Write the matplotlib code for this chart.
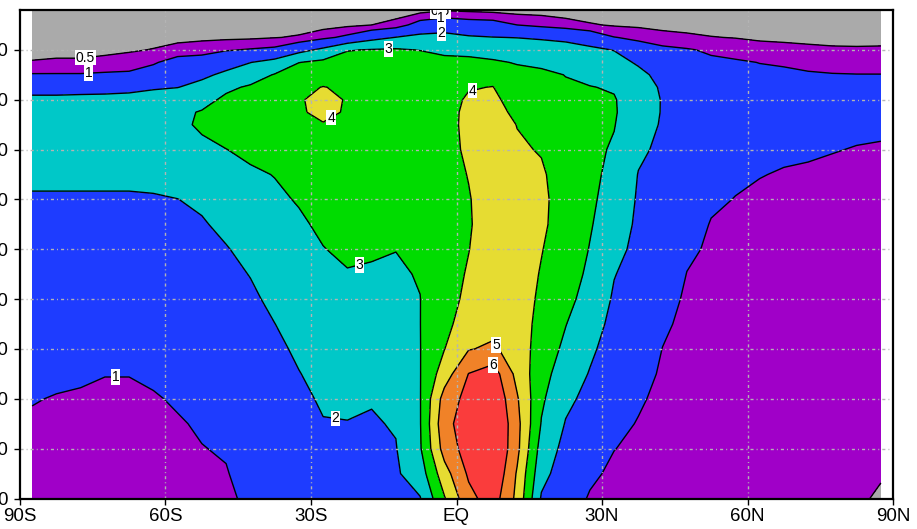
import numpy as np
import matplotlib
matplotlib.use("Agg")
import matplotlib.pyplot as plt

# grid: 5 degree latitude columns, height rows (bottom to top)
lats = np.arange(-87.5, 90, 5.0)
heights = [0, 5, 10, 15, 20, 25, 30, 35, 40, 45, 50, 55, 60, 65, 70, 75,
           77.5, 80, 82.5, 85, 87.5, 90, 92.5, 95, 98]

# one profile per latitude column, values from bottom to top
profiles = [
    [0.8, 0.85, 0.9, 0.95, 1.02, 1.12, 1.2, 1.3, 1.4, 1.5, 1.65, 1.8, 1.9, 2.2, 2.55, 2.6, 2.5, 2.2, 1.65, 1.05, 0.52, 0.4, 0.3, 0.2, 0.1],        # 87.5S
    [0.78, 0.83, 0.88, 0.93, 0.98, 1.08, 1.18, 1.28, 1.38, 1.5, 1.64, 1.78, 1.9, 2.2, 2.55, 2.6, 2.5, 2.2, 1.65, 1.05, 0.55, 0.4, 0.3, 0.2, 0.1],   # 82.5S
    [0.75, 0.8, 0.85, 0.9, 0.96, 1.05, 1.15, 1.25, 1.36, 1.48, 1.62, 1.76, 1.9, 2.2, 2.55, 2.6, 2.5, 2.25, 1.65, 1.05, 0.55, 0.4, 0.3, 0.2, 0.1],   # 77.5S
    [0.72, 0.77, 0.82, 0.87, 0.93, 1.01, 1.12, 1.23, 1.35, 1.47, 1.6, 1.75, 1.9, 2.2, 2.55, 2.6, 2.5, 2.25, 1.7, 1.1, 0.6, 0.42, 0.3, 0.2, 0.1],    # 72.5S
    [0.72, 0.77, 0.82, 0.87, 0.93, 1.01, 1.11, 1.22, 1.34, 1.46, 1.6, 1.75, 1.9, 2.2, 2.55, 2.65, 2.55, 2.3, 1.75, 1.12, 0.7, 0.45, 0.32, 0.2, 0.1], # 67.5S
    [0.76, 0.81, 0.86, 0.91, 0.97, 1.06, 1.16, 1.26, 1.37, 1.48, 1.62, 1.76, 1.92, 2.25, 2.6, 2.7, 2.65, 2.4, 1.9, 1.35, 0.92, 0.52, 0.35, 0.22, 0.1],  # 62.5S
    [0.82, 0.87, 0.92, 0.97, 1.04, 1.12, 1.22, 1.32, 1.43, 1.55, 1.68, 1.82, 1.99, 2.35, 2.7, 2.85, 2.85, 2.65, 1.98, 1.6, 1.3, 0.65, 0.38, 0.25, 0.12],  # 57.5S
    [0.9, 0.95, 0.99, 1.04, 1.12, 1.2, 1.3, 1.4, 1.52, 1.64, 1.78, 1.92, 2.15, 2.45, 2.85, 3.1, 3.05, 2.75, 2.3, 1.8, 1.35, 0.75, 0.4, 0.25, 0.12],     # 52.5S
    [0.93, 0.98, 1.03, 1.1, 1.18, 1.28, 1.38, 1.5, 1.62, 1.76, 1.95, 2.2, 2.45, 2.7, 2.99, 3.3, 3.3, 3.15, 2.85, 2.2, 1.6, 0.95, 0.4, 0.25, 0.12],      # 47.5S
    [1.08, 1.14, 1.2, 1.28, 1.37, 1.47, 1.58, 1.7, 1.84, 2.03, 2.25, 2.48, 2.7, 2.9, 3.15, 3.45, 3.5, 3.4, 3.1, 2.6, 1.98, 1.05, 0.42, 0.25, 0.12],     # 42.5S
    [1.2, 1.27, 1.35, 1.44, 1.55, 1.67, 1.8, 1.99, 2.2, 2.4, 2.6, 2.75, 2.88, 3.02, 3.3, 3.6, 3.7, 3.68, 3.45, 3.05, 2.3, 1.15, 0.48, 0.28, 0.14],      # 37.5S
    [1.4, 1.5, 1.6, 1.7, 1.82, 1.97, 2.15, 2.33, 2.5, 2.65, 2.78, 2.9, 3.05, 3.25, 3.5, 3.78, 3.9, 3.92, 3.85, 3.55, 2.98, 1.7, 0.55, 0.3, 0.14],      # 32.5S
    [1.65, 1.75, 1.85, 1.96, 2.1, 2.27, 2.45, 2.6, 2.75, 2.87, 2.98, 3.12, 3.3, 3.5, 3.7, 3.95, 4.2, 4.25, 4.02, 3.7, 3.2, 2.2, 0.85, 0.3, 0.15],     # 27.5S
    [1.68, 1.78, 1.88, 1.98, 2.12, 2.3, 2.48, 2.65, 2.8, 2.96, 3.12, 3.3, 3.45, 3.6, 3.72, 3.85, 3.92, 3.94, 3.9, 3.75, 3.4, 2.95, 1.15, 0.4, 0.15],   # 22.5S
    [1.62, 1.72, 1.82, 1.93, 2.05, 2.22, 2.4, 2.6, 2.78, 2.93, 3.07, 3.22, 3.38, 3.52, 3.65, 3.78, 3.83, 3.85, 3.83, 3.75, 3.5, 3.05, 1.7, 0.5, 0.18],  # 17.5S
    [1.8, 1.88, 1.96, 2.06, 2.2, 2.35, 2.5, 2.65, 2.8, 2.92, 3.01, 3.15, 3.3, 3.45, 3.6, 3.72, 3.78, 3.82, 3.82, 3.78, 3.6, 3.1, 2.02, 0.7, 0.2],      # 12.5S
    [1.95, 2.5, 2.9, 2.95, 2.96, 2.97, 2.98, 2.99, 2.99, 3.04, 3.15, 3.28, 3.4, 3.52, 3.63, 3.72, 3.76, 3.78, 3.78, 3.72, 3.5, 2.97, 2.25, 1.3, 0.3],  # 7.5S
    [3.92, 4.6, 5.4, 5.7, 5.4, 4.5, 3.98, 3.75, 3.65, 3.62, 3.62, 3.63, 3.65, 3.68, 3.7, 3.72, 3.72, 3.7, 3.66, 3.55, 3.3, 2.75, 2.3, 1.5, 0.45],      # 2.5S
    [5.7, 6.15, 6.45, 6.5, 6.35, 6.02, 4.95, 4.45, 4.2, 4.08, 3.98, 3.92, 3.95, 4.03, 4.15, 4.2, 4.18, 4.1, 3.95, 3.7, 3.25, 2.7, 2.1, 1.35, 0.4],     # 2.5N
    [6.5, 6.95, 7.2, 7.2, 6.95, 6.5, 5.15, 4.7, 4.55, 4.5, 4.48, 4.45, 4.42, 4.42, 4.42, 4.4, 4.32, 4.2, 4.02, 3.7, 3.1, 2.65, 2.02, 1.3, 0.35],      # 7.5N
    [4.75, 4.9, 5.25, 5.3, 5.1, 4.7, 4.55, 4.45, 4.42, 4.38, 4.35, 4.3, 4.25, 4.18, 4.1, 3.98, 3.8, 3.6, 3.42, 3.22, 2.95, 2.55, 1.98, 1.0, 0.3],     # 12.5N
    [1.9, 2.3, 2.6, 2.95, 3.15, 3.35, 3.55, 3.72, 3.85, 3.95, 4.03, 4.12, 4.15, 4.1, 3.95, 3.8, 3.72, 3.62, 3.45, 3.2, 2.8, 2.45, 1.9, 0.85, 0.3],    # 17.5N
    [1.3, 1.5, 1.72, 1.95, 2.2, 2.5, 2.8, 3.03, 3.3, 3.5, 3.62, 3.68, 3.68, 3.62, 3.52, 3.4, 3.32, 3.22, 3.1, 2.98, 2.65, 2.35, 1.8, 0.7, 0.25],      # 22.5N
    [0.95, 1.1, 1.3, 1.52, 1.75, 1.95, 2.15, 2.35, 2.6, 2.8, 2.96, 3.08, 3.15, 3.18, 3.18, 3.15, 3.1, 3.06, 3.02, 2.85, 2.5, 2.2, 1.5, 0.55, 0.2],    # 27.5N
    [0.82, 0.9, 1.01, 1.15, 1.32, 1.48, 1.63, 1.78, 1.9, 2.03, 2.25, 2.45, 2.65, 2.8, 2.92, 3.03, 3.06, 3.04, 2.95, 2.7, 2.35, 1.97, 1.02, 0.45, 0.18],  # 32.5N
    [0.72, 0.8, 0.9, 0.97, 1.07, 1.2, 1.35, 1.48, 1.6, 1.7, 1.78, 1.85, 1.9, 1.97, 2.15, 2.45, 2.6, 2.65, 2.55, 2.25, 1.88, 1.3, 0.88, 0.4, 0.15],    # 37.5N
    [0.64, 0.69, 0.75, 0.81, 0.87, 0.93, 0.99, 1.1, 1.22, 1.35, 1.47, 1.58, 1.67, 1.75, 1.83, 1.9, 1.93, 1.93, 1.85, 1.7, 1.45, 1.15, 0.68, 0.35, 0.14],  # 42.5N
    [0.6, 0.62, 0.65, 0.68, 0.72, 0.76, 0.8, 0.86, 0.92, 0.99, 1.08, 1.18, 1.28, 1.38, 1.46, 1.52, 1.55, 1.55, 1.5, 1.4, 1.25, 1.05, 0.6, 0.32, 0.13],   # 47.5N
    [0.58, 0.6, 0.62, 0.65, 0.68, 0.71, 0.75, 0.79, 0.84, 0.89, 0.94, 0.98, 1.06, 1.14, 1.22, 1.28, 1.3, 1.3, 1.27, 1.2, 1.1, 0.92, 0.52, 0.3, 0.13],    # 52.5N
    [0.57, 0.59, 0.61, 0.63, 0.66, 0.69, 0.72, 0.76, 0.8, 0.84, 0.89, 0.94, 0.99, 1.06, 1.13, 1.19, 1.21, 1.22, 1.2, 1.15, 1.06, 0.82, 0.48, 0.3, 0.13], # 57.5N
    [0.57, 0.58, 0.6, 0.62, 0.64, 0.67, 0.7, 0.73, 0.77, 0.81, 0.85, 0.9, 0.95, 1.01, 1.08, 1.13, 1.15, 1.16, 1.14, 1.1, 0.99, 0.7, 0.42, 0.28, 0.12],  # 62.5N
    [0.57, 0.58, 0.6, 0.62, 0.64, 0.66, 0.69, 0.72, 0.75, 0.79, 0.83, 0.87, 0.92, 0.98, 1.05, 1.1, 1.12, 1.13, 1.12, 1.07, 0.96, 0.65, 0.4, 0.27, 0.12], # 67.5N
    [0.56, 0.57, 0.59, 0.61, 0.63, 0.65, 0.68, 0.71, 0.74, 0.78, 0.82, 0.86, 0.91, 0.97, 1.03, 1.08, 1.1, 1.11, 1.1, 1.04, 0.9, 0.6, 0.38, 0.26, 0.12],  # 72.5N
    [0.55, 0.56, 0.58, 0.6, 0.62, 0.64, 0.67, 0.7, 0.73, 0.77, 0.81, 0.85, 0.9, 0.95, 1.01, 1.06, 1.08, 1.09, 1.08, 1.02, 0.85, 0.56, 0.37, 0.25, 0.12], # 77.5N
    [0.56, 0.57, 0.58, 0.6, 0.62, 0.64, 0.67, 0.7, 0.73, 0.76, 0.8, 0.84, 0.89, 0.94, 0.99, 1.05, 1.07, 1.08, 1.07, 1.01, 0.84, 0.55, 0.37, 0.25, 0.12], # 82.5N
    [0.45, 0.53, 0.57, 0.6, 0.62, 0.64, 0.67, 0.7, 0.73, 0.76, 0.8, 0.84, 0.88, 0.93, 0.98, 1.04, 1.06, 1.07, 1.06, 1.01, 0.83, 0.56, 0.37, 0.25, 0.12], # 87.5N
]

fill_levels = [0, 0.5, 1, 2, 3, 4, 5, 6, 8]
fill_colors = ['#aaaaaa', '#a000c8', '#1e3cff', '#00c8c8', '#00dc00',
               '#e6dc32', '#f08228', '#fa3c3c']
line_levels = [0.5, 1, 2, 3, 4, 5, 6]
label_fmt = {0.5: '0.5', 1: '1', 2: '2', 3: '3', 4: '4', 5: '5', 6: '6'}
label_spots = {
    0.5: [(-76.4, 87.8), (-3.3, 97.2)],
    1: [(-75.8, 85.2), (-3.1, 96.0), (-70.3, 25.4)],
    2: [(-3.1, 93.8), (-25.3, 13.8)],
    3: [(-14.0, 90.6), (-19.8, 46.0)],
    4: [(-25.3, 75.4), (2.9, 83.4)],
    5: [(8.4, 31.0)],
    6: [(8.4, 27.4)],
}
xticks = [-90, -60, -30, 0, 30, 60, 90]
xtick_labels = ['90S', '60S', '30S', 'EQ', '30N', '60N', '90N']
yticks = [0, 10, 20, 30, 40, 50, 60, 70, 80, 90]
ytick_labels = ['0', '10', '20', '30', '40', '50', '60', '70', '80', '90']

field = np.array(profiles).T

plt.rcParams['font.family'] = ['Liberation Sans', 'DejaVu Sans']
fig = plt.figure(figsize=(9.17, 5.29), dpi=100)
ax = fig.add_axes([20 / 917, 30.5 / 529, 873 / 917, 488.5 / 529])

ax.contourf(lats, heights, field, levels=fill_levels, colors=fill_colors)

# one line set per level so each can be labelled on its own
for lev in line_levels:
    cs = ax.contour(lats, heights, field, levels=[lev], colors='black',
                    linewidths=1.0)
    txts = ax.clabel(cs, manual=label_spots[lev], inline=False,
                     fmt=label_fmt, fontsize=10, colors='black')
    for t in txts:
        t.set_rotation(0)
        t.set_bbox(dict(facecolor='white', edgecolor='none', pad=0.6))
        t.set_clip_on(True)

ax.set_xlim(-90, 90)
ax.set_ylim(0, 98)
ax.set_xticks(xticks)
ax.set_xticklabels(xtick_labels)
ax.set_yticks(yticks)
ax.set_yticklabels(ytick_labels)
ax.tick_params(direction='out', length=4, width=1, labelsize=13.5)
ax.tick_params(axis='x', pad=2.5)
ax.tick_params(axis='y', pad=4.5)

for s in ax.spines.values():
    s.set_linewidth(1.6)

for x in xticks[1:-1]:
    ax.axvline(x, color='#b4b4b4', lw=1, ls=(0, (2.2, 2.2, 0.7, 2.2)), zorder=2.5)
for y in yticks[1:]:
    ax.axhline(y, color='#b4b4b4', lw=1, ls=(0, (2.2, 2.2, 0.7, 2.2)), zorder=2.5)

fig.savefig('out.png', dpi=100)
